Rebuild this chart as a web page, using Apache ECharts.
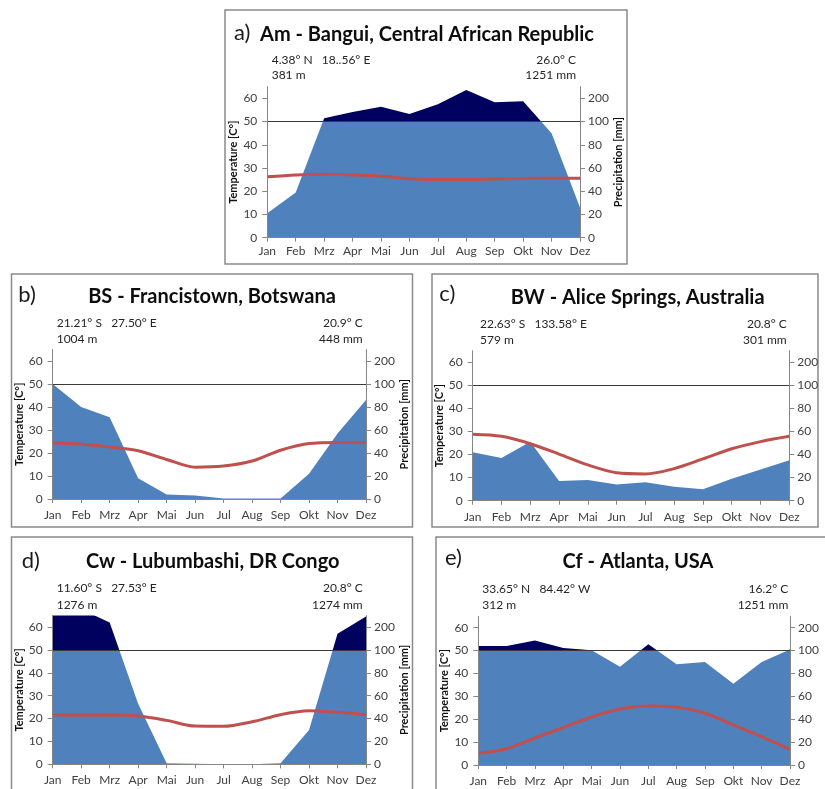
<!DOCTYPE html>
<html>
<head>
<meta charset="utf-8">
<script src="https://cdn.jsdelivr.net/npm/echarts@6/dist/echarts.min.js"></script>
<style>
  html, body { margin: 0; padding: 0; background: #ffffff; }
  #chart { width: 825px; height: 789px; }
</style>
</head>
<body>
<div id="chart"></div>
<script>
// Month labels (German abbreviations)
const months = ['Jan', 'Feb', 'Mrz', 'Apr', 'Mai', 'Jun', 'Jul', 'Aug', 'Sep', 'Okt', 'Nov', 'Dez'];

// Monthly mean temperature (°C) and precipitation (mm) per station
const banguiTemp = [26.2, 27.0, 27.3, 27.0, 26.5, 25.4, 25.0, 25.0, 25.3, 25.5, 25.6, 25.6];
const banguiPrecip = [21, 39, 114, 141, 164, 132, 174, 236, 183, 187, 90, 26];

const francistownTemp = [24.3, 23.8, 22.6, 21.0, 17.2, 13.8, 14.3, 16.5, 21.2, 24.1, 24.6, 24.6];
const francistownPrecip = [100, 80, 71, 18, 4, 3, 0.5, 0.5, 0.5, 22, 57, 86];

const aliceTemp = [28.8, 27.9, 24.7, 20.2, 15.5, 12.1, 11.6, 13.9, 18.1, 22.5, 25.6, 27.9];
const alicePrecip = [42, 37, 51, 17, 18, 14, 16, 12, 10, 19, 27, 35];

const lubumbashiTemp = [21.5, 21.4, 21.5, 21.1, 19.2, 16.7, 16.6, 18.6, 21.7, 23.4, 22.7, 21.7];
const lubumbashiPrecip = [270, 278, 220, 53, 1, 0.5, 0, 0, 1, 30, 171, 246];

const atlantaTemp = [5.1, 7.1, 11.8, 16.4, 21.0, 24.5, 25.8, 25.2, 22.6, 17.5, 12.4, 6.8];
const atlantaPrecip = [120, 120, 144, 111, 102, 86, 128, 88, 90, 71, 90, 105];

// Axis ticks: temperature scale on the left, precipitation labels on the right
const tempTicks = [0, 10, 20, 30, 40, 50, 60];
const precipTickLabels = ['0', '20', '40', '60', '80', '100', '200'];

// Station texts
const tags = ['a)', 'b)', 'c)', 'd)', 'e)'];
const titles = ['Am - Bangui, Central African Republic', 'BS - Francistown, Botswana', 'BW - Alice Springs, Australia', 'Cw - Lubumbashi, DR Congo', 'Cf - Atlanta, USA'];
const coordTexts = ['4.38° N   18..56° E', '21.21° S   27.50° E', '22.63° S   133.58° E', '11.60° S   27.53° E', '33.65° N   84.42° W'];
const elevTexts = ['381 m', '1004 m', '579 m', '1276 m', '312 m'];
const meanTempTexts = ['26.0° C', '20.9° C', '20.8° C', '20.8° C', '16.2° C'];
const totalPrecipTexts = ['1251 mm', '448 mm', '301 mm', '1274 mm', '1251 mm'];

const temps = [banguiTemp, francistownTemp, aliceTemp, lubumbashiTemp, atlantaTemp];
const precips = [banguiPrecip, francistownPrecip, alicePrecip, lubumbashiPrecip, atlantaPrecip];

// Walter–Lieth scaling: 10 °C = 20 mm up to 100 mm, compressed to 10 °C = 100 mm above
const toScale = mm => (mm <= 100 ? mm / 2 : 50 + (mm - 100) / 10);

// Panel layout (pixels)
const layout = [
  { box: [225, 10, 402, 254], grid: [267.3, 86.7, 312.7, 151], tag: [234, 32.5], title: [427, 34.7],
    info: { left: 271.7, right: 576, y1: 60, y2: 75 }, xMargin: 7, precipName: true },
  { box: [11.5, 274, 401, 253], grid: [52.7, 349.5, 313.3, 149.5], tag: [18.3, 294.5], title: [212, 297],
    info: { left: 56.7, right: 362.7, y1: 323.3, y2: 339.3 }, xMargin: 10, precipName: true },
  { box: [432, 274, 386, 253], grid: [472.7, 350.7, 316.6, 150], tag: [439.3, 294], title: [637.7, 297.5],
    info: { left: 480, right: 786.7, y1: 323.7, y2: 340 }, xMargin: 10, precipName: false },
  { box: [11.5, 537, 401, 270], grid: [52.7, 615.6, 313.3, 148.7], tag: [21.7, 560.6], title: [212.7, 562],
    info: { left: 56.7, right: 362.7, y1: 588.3, y2: 605 }, xMargin: 10, precipName: true },
  { box: [436, 537, 410, 270], grid: [478.3, 616.3, 311.7, 148.7], tag: [445, 558], title: [638, 562],
    info: { left: 482.3, right: 788.3, y1: 589.3, y2: 605 }, xMargin: 10, precipName: false }
];

const FONT = 'Lato, "Open Sans", sans-serif';
const axisGray = '#868686';
const labelColor = '#404040';
const lightBlue = '#4F81BD';
const darkBlue = '#00005F';
const tempRed = '#C0504D';

const grids = [], xAxes = [], yAxes = [], series = [], visualMaps = [], graphics = [];

layout.forEach((L, i) => {
  grids.push({ left: L.grid[0], top: L.grid[1], width: L.grid[2], height: L.grid[3],
    containLabel: false, outerBoundsMode: 'none' });

  xAxes.push({
    type: 'category', gridIndex: i, data: months, boundaryGap: false, z: 5,
    axisLine: { lineStyle: { color: axisGray, width: 1 } },
    axisTick: { show: true, length: 4, interval: 0, lineStyle: { color: axisGray } },
    axisLabel: { interval: 0, margin: L.xMargin, fontSize: 12, color: labelColor, fontFamily: FONT },
    splitLine: { show: false }
  });

  yAxes.push({
    type: 'value', gridIndex: i, position: 'left', min: 0, max: 65, z: 5,
    axisLine: { show: true, lineStyle: { color: axisGray, width: 1 } },
    axisTick: { show: true, length: 5, customValues: tempTicks, lineStyle: { color: axisGray } },
    axisLabel: { customValues: tempTicks, margin: 10, fontSize: 12, color: labelColor, fontFamily: FONT },
    splitLine: { show: false },
    name: 'Temperature [C°]', nameLocation: 'middle', nameGap: 28,
    nameTextStyle: { fontSize: 11, fontWeight: 'bold', color: '#111', fontFamily: FONT }
  });

  yAxes.push({
    type: 'value', gridIndex: i, position: 'right', min: 0, max: 65, z: 5,
    axisLine: { show: true, lineStyle: { color: axisGray, width: 1 } },
    axisTick: { show: true, length: 5, customValues: tempTicks, lineStyle: { color: axisGray } },
    axisLabel: { customValues: tempTicks, margin: 8, fontSize: 12, color: labelColor, fontFamily: FONT,
      formatter: v => precipTickLabels[tempTicks.indexOf(v)] },
    splitLine: { show: false },
    name: L.precipName ? 'Precipitation [mm]' : '', nameLocation: 'middle', nameGap: 33,
    nameTextStyle: { fontSize: 11, fontWeight: 'bold', color: '#111', fontFamily: FONT }
  });

  const precipIndex = series.length;
  series.push({
    type: 'line', xAxisIndex: i, yAxisIndex: 2 * i, z: 2,
    data: precips[i].map(toScale),
    symbol: 'none', clip: true,
    lineStyle: { width: 0 },
    areaStyle: { opacity: 1 },
    markLine: {
      silent: true, symbol: 'none', label: { show: false },
      lineStyle: { color: '#3a3a3a', width: 1, type: 'solid' },
      data: [{ yAxis: 50 }]
    }
  });
  series.push({
    type: 'line', xAxisIndex: i, yAxisIndex: 2 * i, z: 4,
    data: temps[i], smooth: 0.3, symbol: 'none',
    lineStyle: { color: tempRed, width: 3 }
  });

  // Humid months above 100 mm are drawn in dark blue
  visualMaps.push({
    type: 'piecewise', show: false, seriesIndex: precipIndex, dimension: 1,
    pieces: [{ gte: 0, lte: 50, color: lightBlue }, { gt: 50, lte: 100, color: darkBlue }]
  });

  graphics.push({
    type: 'rect', silent: true, z: -10,
    shape: { x: L.box[0], y: L.box[1], width: L.box[2], height: L.box[3] },
    style: { fill: 'none', stroke: '#8a8a8a', lineWidth: 1.5 }
  });
  graphics.push({
    type: 'text', silent: true, x: L.tag[0], y: L.tag[1],
    style: { text: tags[i], font: '22px ' + FONT, fill: '#1a1a1a', align: 'left', verticalAlign: 'middle' }
  });
  graphics.push({
    type: 'text', silent: true, x: L.title[0], y: L.title[1],
    style: { text: titles[i], font: 'bold 20px ' + FONT, fill: '#0d0d0d', align: 'center', verticalAlign: 'middle' }
  });
  graphics.push({
    type: 'text', silent: true, x: L.info.left, y: L.info.y1,
    style: { text: coordTexts[i], font: '12px ' + FONT, fill: '#262626', align: 'left', verticalAlign: 'middle' }
  });
  graphics.push({
    type: 'text', silent: true, x: L.info.left, y: L.info.y2,
    style: { text: elevTexts[i], font: '12px ' + FONT, fill: '#262626', align: 'left', verticalAlign: 'middle' }
  });
  graphics.push({
    type: 'text', silent: true, x: L.info.right, y: L.info.y1,
    style: { text: meanTempTexts[i], font: '12px ' + FONT, fill: '#262626', align: 'right', verticalAlign: 'middle' }
  });
  graphics.push({
    type: 'text', silent: true, x: L.info.right, y: L.info.y2,
    style: { text: totalPrecipTexts[i], font: '12px ' + FONT, fill: '#262626', align: 'right', verticalAlign: 'middle' }
  });
});

const chart = echarts.init(document.getElementById('chart'), null, { renderer: 'canvas' });
chart.setOption({
  animation: false,
  backgroundColor: '#ffffff',
  textStyle: { fontFamily: FONT },
  grid: grids,
  xAxis: xAxes,
  yAxis: yAxes,
  visualMap: visualMaps,
  series: series,
  graphic: { elements: graphics }
});
</script>
</body>
</html>
